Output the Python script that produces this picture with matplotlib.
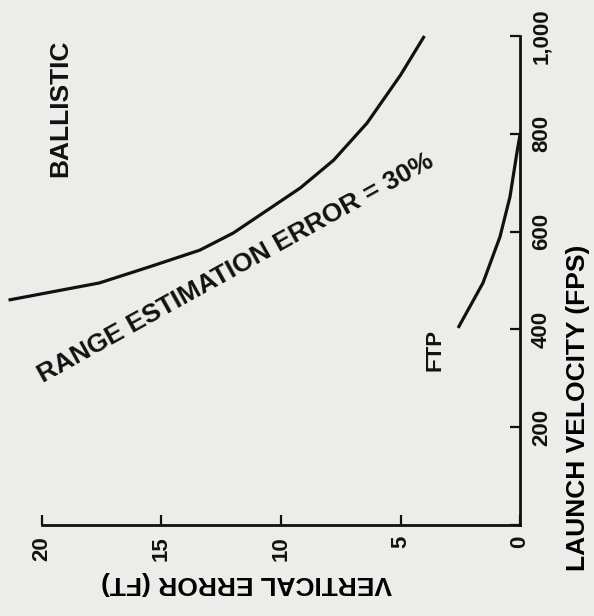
import matplotlib.pyplot as plt

# values (axes are drawn rotated, as on the page)
ballistic_err = [21.4, 17.6, 15.5, 13.4, 12.0, 9.2, 7.8, 6.4, 5.0, 4.0]
ballistic_vel = [460, 495, 528, 562, 597, 689, 746, 822, 920, 1000]
ftp_err = [2.59, 1.55, 0.84, 0.42, 0.13, 0.0]
ftp_vel = [403, 495, 589, 671, 761, 798]

err_ticks = [20, 15, 10, 5, 0]
err_labels = ['20', '15', '10', '5', '0']
vel_ticks = [0, 200, 400, 600, 800, 1000]
vel_labels = ['', '200', '400', '600', '800', '1,000']

plt.rcParams['font.family'] = ['Liberation Sans', 'DejaVu Sans']
plt.rcParams['font.weight'] = 'bold'
paper = '#ececeb'
ink = '#111111'

fig = plt.figure(figsize=(5.94, 6.16), dpi=100, facecolor=paper)
ax = fig.add_axes([42 / 594, 1 - 525 / 616, 478 / 594, 489 / 616])
ax.set_facecolor(paper)

ax.plot(ballistic_err, ballistic_vel, color=ink, lw=2.3, clip_on=False,
        solid_capstyle='butt', solid_joinstyle='round')
ax.plot(ftp_err, ftp_vel, color=ink, lw=2.3, clip_on=False,
        solid_capstyle='butt', solid_joinstyle='round')

ax.set_xlim(20, 0)
ax.set_ylim(0, 1000)
for s in ['top', 'left']:
	ax.spines[s].set_visible(False)
for s in ['bottom', 'right']:
	ax.spines[s].set_linewidth(2.0)
	ax.spines[s].set_color(ink)

ax.yaxis.tick_right()
ax.set_xticks(err_ticks)
ax.set_xticklabels(err_labels, rotation=90, fontweight='bold')
ax.set_yticks(vel_ticks)
ax.set_yticklabels(vel_labels, rotation=90, va='center', fontweight='bold')
ax.tick_params(direction='in', length=7, width=1.6, colors=ink,
               labelsize=16, pad=8)

ax.set_xlabel('VERTICAL ERROR (FT)', rotation=180, fontsize=19,
              fontweight='bold', ha='center', va='center')
ax.xaxis.set_label_coords(0.427, -0.119)
ax.yaxis.set_label_position('right')
ax.set_ylabel('LAUNCH VELOCITY (FPS)', rotation=90, fontsize=19,
              fontweight='bold', ha='center', va='center')
ax.yaxis.set_label_coords(1.121, 0.239)

ax.text(19.25, 853, 'BALLISTIC', rotation=90, fontsize=19,
        ha='center', va='center', color=ink)
ax.text(3.56, 358, 'FTP', rotation=90, fontsize=16,
        ha='center', va='center', color=ink)
ax.text(19.96, 290, 'RANGE ESTIMATION ERROR = 30%', rotation=29,
        rotation_mode='anchor', ha='left', va='baseline', fontsize=19,
        color=ink)

fig.savefig('out.png', dpi=100, facecolor=paper)
